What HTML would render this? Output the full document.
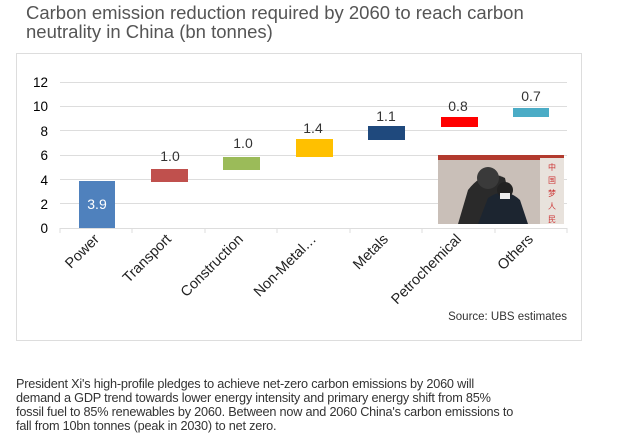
<!DOCTYPE html>
<html><head><style>
body{margin:0;width:620px;height:446px;background:#fff;overflow:hidden;font-family:"Liberation Sans",sans-serif}
.t{position:absolute;left:26px;top:3px;font-size:18.5px;line-height:19px;color:#555;}
.p{position:absolute;left:16px;top:377px;font-size:12.7px;line-height:14px;color:#333;letter-spacing:-0.2px;white-space:nowrap}
</style></head><body>
<div class="t">Carbon emission reduction required by 2060 to reach carbon<br>neutrality in China (bn tonnes)</div>
<svg width="620" height="446" style="position:absolute;left:0;top:0">
<rect x="16.5" y="53.5" width="565" height="287" fill="none" stroke="#ddd"/>
<g stroke="#ddd" stroke-width="1">
<line x1="60" x2="567" y1="82.5" y2="82.5"/><line x1="60" x2="567" y1="106.5" y2="106.5"/>
<line x1="60" x2="567" y1="130.5" y2="130.5"/><line x1="60" x2="567" y1="155.5" y2="155.5"/>
<line x1="60" x2="567" y1="179.5" y2="179.5"/><line x1="60" x2="567" y1="203.5" y2="203.5"/>
<line x1="60" x2="567" y1="228.5" y2="228.5"/>
<line x1="60" x2="60" y1="228" y2="233"/><line x1="132" x2="132" y1="228" y2="233"/><line x1="205" x2="205" y1="228" y2="233"/><line x1="277" x2="277" y1="228" y2="233"/><line x1="350" x2="350" y1="228" y2="233"/><line x1="422" x2="422" y1="228" y2="233"/><line x1="495" x2="495" y1="228" y2="233"/><line x1="567" x2="567" y1="228" y2="233"/>
</g>
<g font-size="13.5" fill="#000" text-anchor="end">
<text x="48" y="87">12</text><text x="48" y="111">10</text><text x="48" y="136">8</text><text x="48" y="160">6</text><text x="48" y="185">4</text><text x="48" y="209">2</text><text x="48" y="233">0</text>
</g>
<rect x="79" y="181" width="36" height="47" fill="#4f81bd"/>
<rect x="151" y="169" width="37" height="13" fill="#c0504d"/>
<rect x="223" y="157" width="37" height="13" fill="#9bbb59"/>
<rect x="296" y="139" width="37" height="18" fill="#ffc000"/>
<rect x="368" y="126" width="37" height="14" fill="#1f497d"/>
<rect x="441" y="117" width="37" height="10" fill="#ff0000"/>
<rect x="513" y="108" width="36" height="9" fill="#4bacc6"/>
<g font-size="14" fill="#333" text-anchor="middle">
<text x="97" y="209" fill="#fff">3.9</text>
<text x="170" y="161">1.0</text><text x="243" y="148">1.0</text><text x="313" y="133">1.4</text>
<text x="386" y="121">1.1</text><text x="458" y="111">0.8</text><text x="531" y="101">0.7</text>
</g>
<g>
<rect x="438" y="155" width="126" height="69" fill="#c9bfb8"/>
<rect x="438" y="155" width="126" height="5" fill="#b23a2e"/>
<rect x="540" y="158" width="24" height="66" fill="#e8e2dc"/>
<path d="M458 224 L468 190 Q485 168 505 178 L515 224Z" fill="#2a2a2a"/>
<circle cx="488" cy="178" r="11" fill="#3a3a3a"/>
<path d="M478 224 L488 198 Q505 186 520 200 L528 224Z" fill="#1c2530"/>
<circle cx="505" cy="190" r="8" fill="#222"/>
<rect x="500" y="193" width="10" height="6" fill="#eee"/>
<g fill="#c33" font-size="8"><text x="548" y="170">中</text><text x="548" y="183">国</text><text x="548" y="196">梦</text><text x="548" y="209">人</text><text x="548" y="222">民</text></g>
</g>
<g font-size="14.5" fill="#222" text-anchor="end">
<text transform="translate(100,240) rotate(-45)">Power</text>
<text transform="translate(172,240) rotate(-45)">Transport</text>
<text transform="translate(244,240) rotate(-45)">Construction</text>
<text transform="translate(317,240) rotate(-45)">Non-Metal…</text>
<text transform="translate(389,240) rotate(-45)">Metals</text>
<text transform="translate(462,240) rotate(-45)">Petrochemical</text>
<text transform="translate(534,240) rotate(-45)">Others</text>
</g>
<text x="567" y="320" font-size="11.5" fill="#333" text-anchor="end">Source: UBS estimates</text>
</svg>
<div class="p">President Xi's high-profile pledges to achieve net-zero carbon emissions by 2060 will<br>demand a GDP trend towards lower energy intensity and primary energy shift from 85%<br>fossil fuel to 85% renewables by 2060. Between now and 2060 China's carbon emissions to<br>fall from 10bn tonnes (peak in 2030) to net zero.</div>
</body></html>
